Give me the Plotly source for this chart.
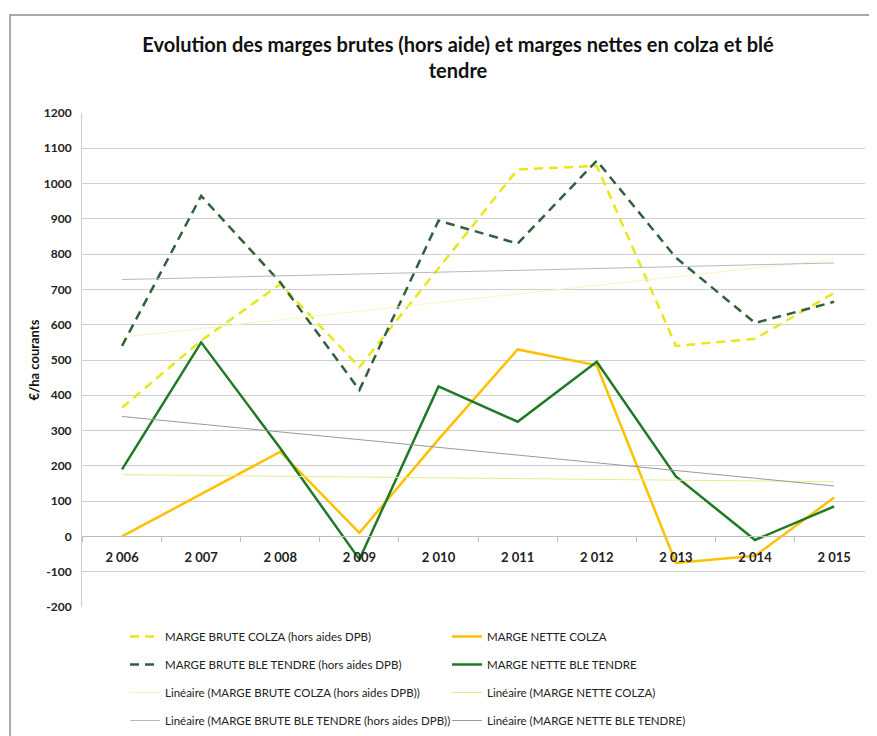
import plotly.graph_objects as go

years = [2006, 2007, 2008, 2009, 2010, 2011, 2012, 2013, 2014, 2015]
year_labels = ["2 006", "2 007", "2 008", "2 009", "2 010", "2 011", "2 012", "2 013", "2 014", "2 015"]

marge_brute_colza = [365, 555, 715, 480, 760, 1040, 1050, 540, 560, 690]
marge_brute_ble = [540, 965, 720, 415, 895, 830, 1065, 790, 605, 665]
marge_nette_colza = [0, 120, 240, 10, 275, 530, 485, -75, -55, 110]
marge_nette_ble = [190, 550, 250, -65, 425, 325, 495, 170, -10, 85]

# trend line end points (2006, 2015) as read on the chart
trend_years = [2006, 2015]
trend_brute_colza = [565, 785]
trend_brute_ble = [728, 775]
trend_nette_colza = [175, 155]
trend_nette_ble = [340, 143]

y_ticks = list(range(-200, 1201, 100))
y_tick_labels = [str(v) for v in y_ticks]

FONT = "Lato, Roboto, sans-serif"

# the page adds an 8 px body margin, so the figure is 8 px smaller
OFF = 8
W, H = 877 - OFF, 736 - OFF
L, R, T, B = 82 - OFF, 877 - 865, 113 - OFF, 736 - 607
pw = W - L - R
ph = H - T - B


def px_x(x):
    # page pixel -> paper fraction
    return (x - OFF - L) / pw


def px_y(y):
    return (H - B - (y - OFF)) / ph


def cx(x):
    return (x - OFF) / W


def cy(y):
    return 1 - (y - OFF) / H


fig = go.Figure()

fig.add_trace(go.Scatter(x=years, y=marge_brute_colza, mode="lines",
                         name="MARGE BRUTE COLZA (hors aides DPB)",
                         line=dict(color="#e6e81a", width=2.5, dash="9px,6px"),
                         legend="legend", legendgroup="a"))
fig.add_trace(go.Scatter(x=years, y=marge_brute_ble, mode="lines",
                         name="MARGE BRUTE BLE TENDRE (hors aides DPB)",
                         line=dict(color="#33603c", width=2.5, dash="9px,6px"),
                         legend="legend", legendgroup="b"))
fig.add_trace(go.Scatter(x=trend_years, y=trend_brute_colza, mode="lines",
                         name="Linéaire (MARGE BRUTE COLZA (hors aides DPB))",
                         line=dict(color="#f6f6c4", width=1),
                         legend="legend", legendgroup="c"))
fig.add_trace(go.Scatter(x=trend_years, y=trend_brute_ble, mode="lines",
                         name="Linéaire (MARGE BRUTE BLE TENDRE (hors aides DPB))",
                         line=dict(color="#b8b8b8", width=1),
                         legend="legend", legendgroup="d"))

fig.add_trace(go.Scatter(x=years, y=marge_nette_colza, mode="lines",
                         name="MARGE NETTE COLZA",
                         line=dict(color="#ffc000", width=2.5),
                         legend="legend2", legendgroup="e"))
fig.add_trace(go.Scatter(x=years, y=marge_nette_ble, mode="lines",
                         name="MARGE NETTE BLE TENDRE",
                         line=dict(color="#1e7a24", width=2.5),
                         legend="legend2", legendgroup="f"))
fig.add_trace(go.Scatter(x=trend_years, y=trend_nette_colza, mode="lines",
                         name="Linéaire (MARGE NETTE COLZA)",
                         line=dict(color="#e4ee8a", width=1),
                         legend="legend2", legendgroup="g"))
fig.add_trace(go.Scatter(x=trend_years, y=trend_nette_ble, mode="lines",
                         name="Linéaire (MARGE NETTE BLE TENDRE)",
                         line=dict(color="#9a9a9a", width=1),
                         legend="legend2", legendgroup="h"))

legend_common = dict(
    font=dict(family=FONT, size=11.5, color="#222222"),
    bgcolor="rgba(0,0,0,0)",
    tracegroupgap=9,
    xanchor="left", yanchor="top",
    orientation="v",
    itemwidth=30,
)

fig.update_layout(
    width=W, height=H,
    margin=dict(l=L, r=R, t=T, b=B, autoexpand=False),
    paper_bgcolor="white",
    plot_bgcolor="white",
    title=dict(
        text="<b>Evolution des marges brutes (hors aide) et marges nettes en colza et blé<br>tendre</b>",
        font=dict(family=FONT, size=20, color="#111111"),
        x=cx(458), xanchor="center", xref="container",
        y=cy(52), yanchor="top", yref="container",
    ),
    xaxis=dict(
        range=[2005.494, 2015.39],
        tickmode="array", tickvals=years, ticktext=year_labels,
        tickfont=dict(family=FONT, size=13, color="#222222", weight="bold"),
        showgrid=False, zeroline=False,
        showline=True, linecolor="#bdbdbd", linewidth=1,
        anchor="free", position=200 / 1400,
        ticks="", ticklabelstandoff=9,
        minor=dict(tick0=2005.5, dtick=1, ticks="outside", ticklen=5,
                   tickcolor="#bdbdbd", showgrid=False),
    ),
    yaxis=dict(
        range=[-200, 1200], domain=[0, 1],
        tickmode="array", tickvals=y_ticks, ticktext=y_tick_labels,
        tickfont=dict(family=FONT, size=12, color="#222222", weight="bold"),
        showgrid=True, gridcolor="#cfcfcf", gridwidth=1,
        zeroline=False,
        showline=True, linecolor="#cfcfcf",
        ticks="", ticklabelstandoff=7,
        title=dict(text="<b>€/ha courants</b>",
                   font=dict(family=FONT, size=13, color="#111111"),
                   standoff=1),
    ),
    legend=dict(x=px_x(125), y=px_y(622), **legend_common),
    legend2=dict(x=px_x(447), y=px_y(622), **legend_common),
    shapes=[dict(type="rect", xref="paper", yref="paper",
                 x0=px_x(10), x1=px_x(930), y0=px_y(800), y1=px_y(15),
                 line=dict(color="#8c8c8c", width=1.5), layer="below")],
)

fig.write_html("out.html")
